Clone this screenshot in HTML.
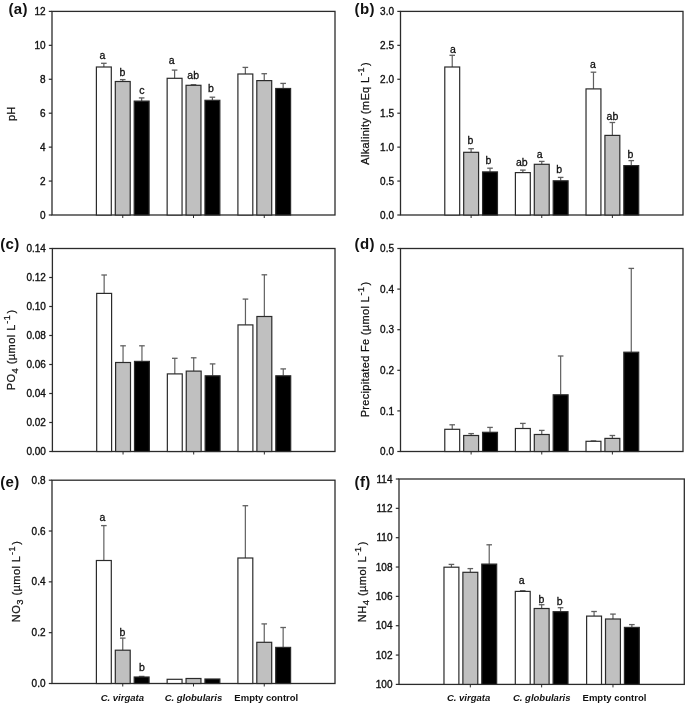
<!DOCTYPE html>
<html><head><meta charset="utf-8"><style>
html,body{margin:0;padding:0;background:#fff;}
body{width:685px;height:703px;overflow:hidden;}
svg{display:block;filter:blur(0.45px);}
text{font-family:"Liberation Sans", sans-serif;fill:#111;}
.tk{font-size:10px;stroke:#111;stroke-width:0.35px;}
.lt{font-size:10.5px;stroke:#111;stroke-width:0.3px;}
.pl{font-size:15px;font-weight:bold;letter-spacing:0.4px;}
.yl{font-size:11px;stroke:#111;stroke-width:0.25px;}
.xl{font-size:9.5px;font-weight:bold;}
.it{font-style:italic;}
</style></head><body>
<svg width="685" height="703" viewBox="0 0 685 703">
<rect x="52" y="11.4" width="283.00" height="203.60" fill="none" stroke="#2b2b2b" stroke-width="1.3"/>
<line x1="48.8" y1="215.00" x2="52" y2="215.00" stroke="#2b2b2b" stroke-width="1.2"/>
<text x="45.5" y="218.60" class="tk" text-anchor="end">0</text>
<line x1="48.8" y1="181.07" x2="52" y2="181.07" stroke="#2b2b2b" stroke-width="1.2"/>
<text x="45.5" y="184.67" class="tk" text-anchor="end">2</text>
<line x1="48.8" y1="147.13" x2="52" y2="147.13" stroke="#2b2b2b" stroke-width="1.2"/>
<text x="45.5" y="150.73" class="tk" text-anchor="end">4</text>
<line x1="48.8" y1="113.20" x2="52" y2="113.20" stroke="#2b2b2b" stroke-width="1.2"/>
<text x="45.5" y="116.80" class="tk" text-anchor="end">6</text>
<line x1="48.8" y1="79.27" x2="52" y2="79.27" stroke="#2b2b2b" stroke-width="1.2"/>
<text x="45.5" y="82.87" class="tk" text-anchor="end">8</text>
<line x1="48.8" y1="45.33" x2="52" y2="45.33" stroke="#2b2b2b" stroke-width="1.2"/>
<text x="45.5" y="48.93" class="tk" text-anchor="end">10</text>
<line x1="48.8" y1="11.40" x2="52" y2="11.40" stroke="#2b2b2b" stroke-width="1.2"/>
<text x="45.5" y="15.00" class="tk" text-anchor="end">12</text>
<line x1="122.75" y1="215" x2="122.75" y2="218" stroke="#2b2b2b" stroke-width="1"/>
<line x1="103.85" y1="67.00" x2="103.85" y2="63.30" stroke="#606060" stroke-width="1.2"/>
<line x1="101.05" y1="63.30" x2="106.65" y2="63.30" stroke="#606060" stroke-width="1.3"/>
<rect x="96.40" y="67.00" width="14.9" height="148.00" fill="#fff" stroke="#2b2b2b" stroke-width="1.2"/>
<line x1="122.75" y1="81.50" x2="122.75" y2="79.60" stroke="#606060" stroke-width="1.2"/>
<line x1="119.95" y1="79.60" x2="125.55" y2="79.60" stroke="#606060" stroke-width="1.3"/>
<rect x="115.30" y="81.50" width="14.9" height="133.50" fill="#c0c0c0" stroke="#2b2b2b" stroke-width="1.2"/>
<line x1="141.65" y1="101.10" x2="141.65" y2="97.90" stroke="#606060" stroke-width="1.2"/>
<line x1="138.85" y1="97.90" x2="144.45" y2="97.90" stroke="#606060" stroke-width="1.3"/>
<rect x="134.20" y="101.10" width="14.9" height="113.90" fill="#000" stroke="#2b2b2b" stroke-width="1.2"/>
<line x1="193.50" y1="215" x2="193.50" y2="218" stroke="#2b2b2b" stroke-width="1"/>
<line x1="174.60" y1="78.30" x2="174.60" y2="70.10" stroke="#606060" stroke-width="1.2"/>
<line x1="171.80" y1="70.10" x2="177.40" y2="70.10" stroke="#606060" stroke-width="1.3"/>
<rect x="167.15" y="78.30" width="14.9" height="136.70" fill="#fff" stroke="#2b2b2b" stroke-width="1.2"/>
<line x1="193.50" y1="85.30" x2="193.50" y2="84.70" stroke="#606060" stroke-width="1.2"/>
<line x1="190.70" y1="84.70" x2="196.30" y2="84.70" stroke="#606060" stroke-width="1.3"/>
<rect x="186.05" y="85.30" width="14.9" height="129.70" fill="#c0c0c0" stroke="#2b2b2b" stroke-width="1.2"/>
<line x1="212.40" y1="100.30" x2="212.40" y2="97.20" stroke="#606060" stroke-width="1.2"/>
<line x1="209.60" y1="97.20" x2="215.20" y2="97.20" stroke="#606060" stroke-width="1.3"/>
<rect x="204.95" y="100.30" width="14.9" height="114.70" fill="#000" stroke="#2b2b2b" stroke-width="1.2"/>
<line x1="264.25" y1="215" x2="264.25" y2="218" stroke="#2b2b2b" stroke-width="1"/>
<line x1="245.35" y1="74.00" x2="245.35" y2="67.40" stroke="#606060" stroke-width="1.2"/>
<line x1="242.55" y1="67.40" x2="248.15" y2="67.40" stroke="#606060" stroke-width="1.3"/>
<rect x="237.90" y="74.00" width="14.9" height="141.00" fill="#fff" stroke="#2b2b2b" stroke-width="1.2"/>
<line x1="264.25" y1="80.60" x2="264.25" y2="73.70" stroke="#606060" stroke-width="1.2"/>
<line x1="261.45" y1="73.70" x2="267.05" y2="73.70" stroke="#606060" stroke-width="1.3"/>
<rect x="256.80" y="80.60" width="14.9" height="134.40" fill="#c0c0c0" stroke="#2b2b2b" stroke-width="1.2"/>
<line x1="283.15" y1="88.50" x2="283.15" y2="83.40" stroke="#606060" stroke-width="1.2"/>
<line x1="280.35" y1="83.40" x2="285.95" y2="83.40" stroke="#606060" stroke-width="1.3"/>
<rect x="275.70" y="88.50" width="14.9" height="126.50" fill="#000" stroke="#2b2b2b" stroke-width="1.2"/>
<rect x="400.5" y="11.4" width="282.50" height="203.60" fill="none" stroke="#2b2b2b" stroke-width="1.3"/>
<line x1="397.3" y1="215.00" x2="400.5" y2="215.00" stroke="#2b2b2b" stroke-width="1.2"/>
<text x="394.0" y="218.60" class="tk" text-anchor="end">0.0</text>
<line x1="397.3" y1="181.07" x2="400.5" y2="181.07" stroke="#2b2b2b" stroke-width="1.2"/>
<text x="394.0" y="184.67" class="tk" text-anchor="end">0.5</text>
<line x1="397.3" y1="147.13" x2="400.5" y2="147.13" stroke="#2b2b2b" stroke-width="1.2"/>
<text x="394.0" y="150.73" class="tk" text-anchor="end">1.0</text>
<line x1="397.3" y1="113.20" x2="400.5" y2="113.20" stroke="#2b2b2b" stroke-width="1.2"/>
<text x="394.0" y="116.80" class="tk" text-anchor="end">1.5</text>
<line x1="397.3" y1="79.27" x2="400.5" y2="79.27" stroke="#2b2b2b" stroke-width="1.2"/>
<text x="394.0" y="82.87" class="tk" text-anchor="end">2.0</text>
<line x1="397.3" y1="45.33" x2="400.5" y2="45.33" stroke="#2b2b2b" stroke-width="1.2"/>
<text x="394.0" y="48.93" class="tk" text-anchor="end">2.5</text>
<line x1="397.3" y1="11.40" x2="400.5" y2="11.40" stroke="#2b2b2b" stroke-width="1.2"/>
<text x="394.0" y="15.00" class="tk" text-anchor="end">3.0</text>
<line x1="471.12" y1="215" x2="471.12" y2="218" stroke="#2b2b2b" stroke-width="1"/>
<line x1="452.23" y1="67.00" x2="452.23" y2="55.30" stroke="#606060" stroke-width="1.2"/>
<line x1="449.43" y1="55.30" x2="455.03" y2="55.30" stroke="#606060" stroke-width="1.3"/>
<rect x="444.78" y="67.00" width="14.9" height="148.00" fill="#fff" stroke="#2b2b2b" stroke-width="1.2"/>
<line x1="471.12" y1="152.30" x2="471.12" y2="148.70" stroke="#606060" stroke-width="1.2"/>
<line x1="468.32" y1="148.70" x2="473.93" y2="148.70" stroke="#606060" stroke-width="1.3"/>
<rect x="463.68" y="152.30" width="14.9" height="62.70" fill="#c0c0c0" stroke="#2b2b2b" stroke-width="1.2"/>
<line x1="490.02" y1="171.90" x2="490.02" y2="168.20" stroke="#606060" stroke-width="1.2"/>
<line x1="487.22" y1="168.20" x2="492.82" y2="168.20" stroke="#606060" stroke-width="1.3"/>
<rect x="482.57" y="171.90" width="14.9" height="43.10" fill="#000" stroke="#2b2b2b" stroke-width="1.2"/>
<line x1="541.75" y1="215" x2="541.75" y2="218" stroke="#2b2b2b" stroke-width="1"/>
<line x1="522.85" y1="172.60" x2="522.85" y2="170.10" stroke="#606060" stroke-width="1.2"/>
<line x1="520.05" y1="170.10" x2="525.65" y2="170.10" stroke="#606060" stroke-width="1.3"/>
<rect x="515.40" y="172.60" width="14.9" height="42.40" fill="#fff" stroke="#2b2b2b" stroke-width="1.2"/>
<line x1="541.75" y1="164.30" x2="541.75" y2="161.40" stroke="#606060" stroke-width="1.2"/>
<line x1="538.95" y1="161.40" x2="544.55" y2="161.40" stroke="#606060" stroke-width="1.3"/>
<rect x="534.30" y="164.30" width="14.9" height="50.70" fill="#c0c0c0" stroke="#2b2b2b" stroke-width="1.2"/>
<line x1="560.65" y1="180.80" x2="560.65" y2="177.40" stroke="#606060" stroke-width="1.2"/>
<line x1="557.85" y1="177.40" x2="563.45" y2="177.40" stroke="#606060" stroke-width="1.3"/>
<rect x="553.20" y="180.80" width="14.9" height="34.20" fill="#000" stroke="#2b2b2b" stroke-width="1.2"/>
<line x1="612.38" y1="215" x2="612.38" y2="218" stroke="#2b2b2b" stroke-width="1"/>
<line x1="593.48" y1="88.90" x2="593.48" y2="72.20" stroke="#606060" stroke-width="1.2"/>
<line x1="590.68" y1="72.20" x2="596.27" y2="72.20" stroke="#606060" stroke-width="1.3"/>
<rect x="586.02" y="88.90" width="14.9" height="126.10" fill="#fff" stroke="#2b2b2b" stroke-width="1.2"/>
<line x1="612.38" y1="135.40" x2="612.38" y2="122.50" stroke="#606060" stroke-width="1.2"/>
<line x1="609.58" y1="122.50" x2="615.17" y2="122.50" stroke="#606060" stroke-width="1.3"/>
<rect x="604.92" y="135.40" width="14.9" height="79.60" fill="#c0c0c0" stroke="#2b2b2b" stroke-width="1.2"/>
<line x1="631.27" y1="165.60" x2="631.27" y2="160.60" stroke="#606060" stroke-width="1.2"/>
<line x1="628.48" y1="160.60" x2="634.07" y2="160.60" stroke="#606060" stroke-width="1.3"/>
<rect x="623.82" y="165.60" width="14.9" height="49.40" fill="#000" stroke="#2b2b2b" stroke-width="1.2"/>
<rect x="52.4" y="248.5" width="282.60" height="203.00" fill="none" stroke="#2b2b2b" stroke-width="1.3"/>
<line x1="49.199999999999996" y1="451.50" x2="52.4" y2="451.50" stroke="#2b2b2b" stroke-width="1.2"/>
<text x="45.9" y="455.10" class="tk" text-anchor="end">0.00</text>
<line x1="49.199999999999996" y1="422.50" x2="52.4" y2="422.50" stroke="#2b2b2b" stroke-width="1.2"/>
<text x="45.9" y="426.10" class="tk" text-anchor="end">0.02</text>
<line x1="49.199999999999996" y1="393.50" x2="52.4" y2="393.50" stroke="#2b2b2b" stroke-width="1.2"/>
<text x="45.9" y="397.10" class="tk" text-anchor="end">0.04</text>
<line x1="49.199999999999996" y1="364.50" x2="52.4" y2="364.50" stroke="#2b2b2b" stroke-width="1.2"/>
<text x="45.9" y="368.10" class="tk" text-anchor="end">0.06</text>
<line x1="49.199999999999996" y1="335.50" x2="52.4" y2="335.50" stroke="#2b2b2b" stroke-width="1.2"/>
<text x="45.9" y="339.10" class="tk" text-anchor="end">0.08</text>
<line x1="49.199999999999996" y1="306.50" x2="52.4" y2="306.50" stroke="#2b2b2b" stroke-width="1.2"/>
<text x="45.9" y="310.10" class="tk" text-anchor="end">0.10</text>
<line x1="49.199999999999996" y1="277.50" x2="52.4" y2="277.50" stroke="#2b2b2b" stroke-width="1.2"/>
<text x="45.9" y="281.10" class="tk" text-anchor="end">0.12</text>
<line x1="49.199999999999996" y1="248.50" x2="52.4" y2="248.50" stroke="#2b2b2b" stroke-width="1.2"/>
<text x="45.9" y="252.10" class="tk" text-anchor="end">0.14</text>
<line x1="123.05" y1="451.5" x2="123.05" y2="454.5" stroke="#2b2b2b" stroke-width="1"/>
<line x1="104.15" y1="293.40" x2="104.15" y2="275.00" stroke="#606060" stroke-width="1.2"/>
<line x1="101.35" y1="275.00" x2="106.95" y2="275.00" stroke="#606060" stroke-width="1.3"/>
<rect x="96.70" y="293.40" width="14.9" height="158.10" fill="#fff" stroke="#2b2b2b" stroke-width="1.2"/>
<line x1="123.05" y1="362.50" x2="123.05" y2="345.80" stroke="#606060" stroke-width="1.2"/>
<line x1="120.25" y1="345.80" x2="125.85" y2="345.80" stroke="#606060" stroke-width="1.3"/>
<rect x="115.60" y="362.50" width="14.9" height="89.00" fill="#c0c0c0" stroke="#2b2b2b" stroke-width="1.2"/>
<line x1="141.95" y1="361.40" x2="141.95" y2="345.80" stroke="#606060" stroke-width="1.2"/>
<line x1="139.15" y1="345.80" x2="144.75" y2="345.80" stroke="#606060" stroke-width="1.3"/>
<rect x="134.50" y="361.40" width="14.9" height="90.10" fill="#000" stroke="#2b2b2b" stroke-width="1.2"/>
<line x1="193.70" y1="451.5" x2="193.70" y2="454.5" stroke="#2b2b2b" stroke-width="1"/>
<line x1="174.80" y1="373.90" x2="174.80" y2="358.30" stroke="#606060" stroke-width="1.2"/>
<line x1="172.00" y1="358.30" x2="177.60" y2="358.30" stroke="#606060" stroke-width="1.3"/>
<rect x="167.35" y="373.90" width="14.9" height="77.60" fill="#fff" stroke="#2b2b2b" stroke-width="1.2"/>
<line x1="193.70" y1="371.10" x2="193.70" y2="357.80" stroke="#606060" stroke-width="1.2"/>
<line x1="190.90" y1="357.80" x2="196.50" y2="357.80" stroke="#606060" stroke-width="1.3"/>
<rect x="186.25" y="371.10" width="14.9" height="80.40" fill="#c0c0c0" stroke="#2b2b2b" stroke-width="1.2"/>
<line x1="212.60" y1="375.80" x2="212.60" y2="363.90" stroke="#606060" stroke-width="1.2"/>
<line x1="209.80" y1="363.90" x2="215.40" y2="363.90" stroke="#606060" stroke-width="1.3"/>
<rect x="205.15" y="375.80" width="14.9" height="75.70" fill="#000" stroke="#2b2b2b" stroke-width="1.2"/>
<line x1="264.35" y1="451.5" x2="264.35" y2="454.5" stroke="#2b2b2b" stroke-width="1"/>
<line x1="245.45" y1="324.90" x2="245.45" y2="299.10" stroke="#606060" stroke-width="1.2"/>
<line x1="242.65" y1="299.10" x2="248.25" y2="299.10" stroke="#606060" stroke-width="1.3"/>
<rect x="238.00" y="324.90" width="14.9" height="126.60" fill="#fff" stroke="#2b2b2b" stroke-width="1.2"/>
<line x1="264.35" y1="316.50" x2="264.35" y2="274.80" stroke="#606060" stroke-width="1.2"/>
<line x1="261.55" y1="274.80" x2="267.15" y2="274.80" stroke="#606060" stroke-width="1.3"/>
<rect x="256.90" y="316.50" width="14.9" height="135.00" fill="#c0c0c0" stroke="#2b2b2b" stroke-width="1.2"/>
<line x1="283.25" y1="375.80" x2="283.25" y2="368.90" stroke="#606060" stroke-width="1.2"/>
<line x1="280.45" y1="368.90" x2="286.05" y2="368.90" stroke="#606060" stroke-width="1.3"/>
<rect x="275.80" y="375.80" width="14.9" height="75.70" fill="#000" stroke="#2b2b2b" stroke-width="1.2"/>
<rect x="400.5" y="248.5" width="282.50" height="203.00" fill="none" stroke="#2b2b2b" stroke-width="1.3"/>
<line x1="397.3" y1="451.50" x2="400.5" y2="451.50" stroke="#2b2b2b" stroke-width="1.2"/>
<text x="394.0" y="455.10" class="tk" text-anchor="end">0.0</text>
<line x1="397.3" y1="410.90" x2="400.5" y2="410.90" stroke="#2b2b2b" stroke-width="1.2"/>
<text x="394.0" y="414.50" class="tk" text-anchor="end">0.1</text>
<line x1="397.3" y1="370.30" x2="400.5" y2="370.30" stroke="#2b2b2b" stroke-width="1.2"/>
<text x="394.0" y="373.90" class="tk" text-anchor="end">0.2</text>
<line x1="397.3" y1="329.70" x2="400.5" y2="329.70" stroke="#2b2b2b" stroke-width="1.2"/>
<text x="394.0" y="333.30" class="tk" text-anchor="end">0.3</text>
<line x1="397.3" y1="289.10" x2="400.5" y2="289.10" stroke="#2b2b2b" stroke-width="1.2"/>
<text x="394.0" y="292.70" class="tk" text-anchor="end">0.4</text>
<line x1="397.3" y1="248.50" x2="400.5" y2="248.50" stroke="#2b2b2b" stroke-width="1.2"/>
<text x="394.0" y="252.10" class="tk" text-anchor="end">0.5</text>
<line x1="471.12" y1="451.5" x2="471.12" y2="454.5" stroke="#2b2b2b" stroke-width="1"/>
<line x1="452.23" y1="429.30" x2="452.23" y2="424.80" stroke="#606060" stroke-width="1.2"/>
<line x1="449.43" y1="424.80" x2="455.03" y2="424.80" stroke="#606060" stroke-width="1.3"/>
<rect x="444.78" y="429.30" width="14.9" height="22.20" fill="#fff" stroke="#2b2b2b" stroke-width="1.2"/>
<line x1="471.12" y1="435.50" x2="471.12" y2="433.60" stroke="#606060" stroke-width="1.2"/>
<line x1="468.32" y1="433.60" x2="473.93" y2="433.60" stroke="#606060" stroke-width="1.3"/>
<rect x="463.68" y="435.50" width="14.9" height="16.00" fill="#c0c0c0" stroke="#2b2b2b" stroke-width="1.2"/>
<line x1="490.02" y1="432.30" x2="490.02" y2="427.40" stroke="#606060" stroke-width="1.2"/>
<line x1="487.22" y1="427.40" x2="492.82" y2="427.40" stroke="#606060" stroke-width="1.3"/>
<rect x="482.57" y="432.30" width="14.9" height="19.20" fill="#000" stroke="#2b2b2b" stroke-width="1.2"/>
<line x1="541.75" y1="451.5" x2="541.75" y2="454.5" stroke="#2b2b2b" stroke-width="1"/>
<line x1="522.85" y1="428.50" x2="522.85" y2="423.40" stroke="#606060" stroke-width="1.2"/>
<line x1="520.05" y1="423.40" x2="525.65" y2="423.40" stroke="#606060" stroke-width="1.3"/>
<rect x="515.40" y="428.50" width="14.9" height="23.00" fill="#fff" stroke="#2b2b2b" stroke-width="1.2"/>
<line x1="541.75" y1="434.50" x2="541.75" y2="430.40" stroke="#606060" stroke-width="1.2"/>
<line x1="538.95" y1="430.40" x2="544.55" y2="430.40" stroke="#606060" stroke-width="1.3"/>
<rect x="534.30" y="434.50" width="14.9" height="17.00" fill="#c0c0c0" stroke="#2b2b2b" stroke-width="1.2"/>
<line x1="560.65" y1="394.80" x2="560.65" y2="356.00" stroke="#606060" stroke-width="1.2"/>
<line x1="557.85" y1="356.00" x2="563.45" y2="356.00" stroke="#606060" stroke-width="1.3"/>
<rect x="553.20" y="394.80" width="14.9" height="56.70" fill="#000" stroke="#2b2b2b" stroke-width="1.2"/>
<line x1="612.38" y1="451.5" x2="612.38" y2="454.5" stroke="#2b2b2b" stroke-width="1"/>
<line x1="593.48" y1="441.30" x2="593.48" y2="440.90" stroke="#606060" stroke-width="1.2"/>
<line x1="590.68" y1="440.90" x2="596.27" y2="440.90" stroke="#606060" stroke-width="1.3"/>
<rect x="586.02" y="441.30" width="14.9" height="10.20" fill="#fff" stroke="#2b2b2b" stroke-width="1.2"/>
<line x1="612.38" y1="438.40" x2="612.38" y2="435.50" stroke="#606060" stroke-width="1.2"/>
<line x1="609.58" y1="435.50" x2="615.17" y2="435.50" stroke="#606060" stroke-width="1.3"/>
<rect x="604.92" y="438.40" width="14.9" height="13.10" fill="#c0c0c0" stroke="#2b2b2b" stroke-width="1.2"/>
<line x1="631.27" y1="352.20" x2="631.27" y2="268.40" stroke="#606060" stroke-width="1.2"/>
<line x1="628.48" y1="268.40" x2="634.07" y2="268.40" stroke="#606060" stroke-width="1.3"/>
<rect x="623.82" y="352.20" width="14.9" height="99.30" fill="#000" stroke="#2b2b2b" stroke-width="1.2"/>
<rect x="52" y="480.2" width="283.00" height="203.30" fill="none" stroke="#2b2b2b" stroke-width="1.3"/>
<line x1="48.8" y1="683.50" x2="52" y2="683.50" stroke="#2b2b2b" stroke-width="1.2"/>
<text x="45.5" y="687.10" class="tk" text-anchor="end">0.0</text>
<line x1="48.8" y1="632.67" x2="52" y2="632.67" stroke="#2b2b2b" stroke-width="1.2"/>
<text x="45.5" y="636.27" class="tk" text-anchor="end">0.2</text>
<line x1="48.8" y1="581.85" x2="52" y2="581.85" stroke="#2b2b2b" stroke-width="1.2"/>
<text x="45.5" y="585.45" class="tk" text-anchor="end">0.4</text>
<line x1="48.8" y1="531.02" x2="52" y2="531.02" stroke="#2b2b2b" stroke-width="1.2"/>
<text x="45.5" y="534.62" class="tk" text-anchor="end">0.6</text>
<line x1="48.8" y1="480.20" x2="52" y2="480.20" stroke="#2b2b2b" stroke-width="1.2"/>
<text x="45.5" y="483.80" class="tk" text-anchor="end">0.8</text>
<line x1="122.75" y1="683.5" x2="122.75" y2="686.5" stroke="#2b2b2b" stroke-width="1"/>
<line x1="103.85" y1="560.50" x2="103.85" y2="525.60" stroke="#606060" stroke-width="1.2"/>
<line x1="101.05" y1="525.60" x2="106.65" y2="525.60" stroke="#606060" stroke-width="1.3"/>
<rect x="96.40" y="560.50" width="14.9" height="123.00" fill="#fff" stroke="#2b2b2b" stroke-width="1.2"/>
<line x1="122.75" y1="650.20" x2="122.75" y2="638.10" stroke="#606060" stroke-width="1.2"/>
<line x1="119.95" y1="638.10" x2="125.55" y2="638.10" stroke="#606060" stroke-width="1.3"/>
<rect x="115.30" y="650.20" width="14.9" height="33.30" fill="#c0c0c0" stroke="#2b2b2b" stroke-width="1.2"/>
<line x1="141.65" y1="677.00" x2="141.65" y2="676.40" stroke="#606060" stroke-width="1.2"/>
<line x1="138.85" y1="676.40" x2="144.45" y2="676.40" stroke="#606060" stroke-width="1.3"/>
<rect x="134.20" y="677.00" width="14.9" height="6.50" fill="#000" stroke="#2b2b2b" stroke-width="1.2"/>
<line x1="193.50" y1="683.5" x2="193.50" y2="686.5" stroke="#2b2b2b" stroke-width="1"/>
<rect x="167.15" y="679.30" width="14.9" height="4.20" fill="#fff" stroke="#2b2b2b" stroke-width="1.2"/>
<rect x="186.05" y="678.50" width="14.9" height="5.00" fill="#c0c0c0" stroke="#2b2b2b" stroke-width="1.2"/>
<rect x="204.95" y="679.00" width="14.9" height="4.50" fill="#000" stroke="#2b2b2b" stroke-width="1.2"/>
<line x1="264.25" y1="683.5" x2="264.25" y2="686.5" stroke="#2b2b2b" stroke-width="1"/>
<line x1="245.35" y1="558.00" x2="245.35" y2="505.70" stroke="#606060" stroke-width="1.2"/>
<line x1="242.55" y1="505.70" x2="248.15" y2="505.70" stroke="#606060" stroke-width="1.3"/>
<rect x="237.90" y="558.00" width="14.9" height="125.50" fill="#fff" stroke="#2b2b2b" stroke-width="1.2"/>
<line x1="264.25" y1="642.30" x2="264.25" y2="623.90" stroke="#606060" stroke-width="1.2"/>
<line x1="261.45" y1="623.90" x2="267.05" y2="623.90" stroke="#606060" stroke-width="1.3"/>
<rect x="256.80" y="642.30" width="14.9" height="41.20" fill="#c0c0c0" stroke="#2b2b2b" stroke-width="1.2"/>
<line x1="283.15" y1="647.40" x2="283.15" y2="627.50" stroke="#606060" stroke-width="1.2"/>
<line x1="280.35" y1="627.50" x2="285.95" y2="627.50" stroke="#606060" stroke-width="1.3"/>
<rect x="275.70" y="647.40" width="14.9" height="36.10" fill="#000" stroke="#2b2b2b" stroke-width="1.2"/>
<rect x="399" y="479" width="285.30" height="205.40" fill="none" stroke="#2b2b2b" stroke-width="1.3"/>
<line x1="395.8" y1="684.40" x2="399" y2="684.40" stroke="#2b2b2b" stroke-width="1.2"/>
<text x="392.5" y="688.00" class="tk" text-anchor="end">100</text>
<line x1="395.8" y1="655.06" x2="399" y2="655.06" stroke="#2b2b2b" stroke-width="1.2"/>
<text x="392.5" y="658.66" class="tk" text-anchor="end">102</text>
<line x1="395.8" y1="625.71" x2="399" y2="625.71" stroke="#2b2b2b" stroke-width="1.2"/>
<text x="392.5" y="629.31" class="tk" text-anchor="end">104</text>
<line x1="395.8" y1="596.37" x2="399" y2="596.37" stroke="#2b2b2b" stroke-width="1.2"/>
<text x="392.5" y="599.97" class="tk" text-anchor="end">106</text>
<line x1="395.8" y1="567.03" x2="399" y2="567.03" stroke="#2b2b2b" stroke-width="1.2"/>
<text x="392.5" y="570.63" class="tk" text-anchor="end">108</text>
<line x1="395.8" y1="537.69" x2="399" y2="537.69" stroke="#2b2b2b" stroke-width="1.2"/>
<text x="392.5" y="541.29" class="tk" text-anchor="end">110</text>
<line x1="395.8" y1="508.34" x2="399" y2="508.34" stroke="#2b2b2b" stroke-width="1.2"/>
<text x="392.5" y="511.94" class="tk" text-anchor="end">112</text>
<line x1="395.8" y1="479.00" x2="399" y2="479.00" stroke="#2b2b2b" stroke-width="1.2"/>
<text x="392.5" y="482.60" class="tk" text-anchor="end">114</text>
<line x1="470.32" y1="684.4" x2="470.32" y2="687.4" stroke="#2b2b2b" stroke-width="1"/>
<line x1="451.43" y1="567.20" x2="451.43" y2="564.40" stroke="#606060" stroke-width="1.2"/>
<line x1="448.62" y1="564.40" x2="454.23" y2="564.40" stroke="#606060" stroke-width="1.3"/>
<rect x="443.98" y="567.20" width="14.9" height="117.20" fill="#fff" stroke="#2b2b2b" stroke-width="1.2"/>
<line x1="470.32" y1="572.30" x2="470.32" y2="568.60" stroke="#606060" stroke-width="1.2"/>
<line x1="467.52" y1="568.60" x2="473.12" y2="568.60" stroke="#606060" stroke-width="1.3"/>
<rect x="462.88" y="572.30" width="14.9" height="112.10" fill="#c0c0c0" stroke="#2b2b2b" stroke-width="1.2"/>
<line x1="489.22" y1="564.10" x2="489.22" y2="544.80" stroke="#606060" stroke-width="1.2"/>
<line x1="486.42" y1="544.80" x2="492.02" y2="544.80" stroke="#606060" stroke-width="1.3"/>
<rect x="481.77" y="564.10" width="14.9" height="120.30" fill="#000" stroke="#2b2b2b" stroke-width="1.2"/>
<line x1="541.65" y1="684.4" x2="541.65" y2="687.4" stroke="#2b2b2b" stroke-width="1"/>
<line x1="522.75" y1="591.40" x2="522.75" y2="590.70" stroke="#606060" stroke-width="1.2"/>
<line x1="519.95" y1="590.70" x2="525.55" y2="590.70" stroke="#606060" stroke-width="1.3"/>
<rect x="515.30" y="591.40" width="14.9" height="93.00" fill="#fff" stroke="#2b2b2b" stroke-width="1.2"/>
<line x1="541.65" y1="608.50" x2="541.65" y2="604.70" stroke="#606060" stroke-width="1.2"/>
<line x1="538.85" y1="604.70" x2="544.45" y2="604.70" stroke="#606060" stroke-width="1.3"/>
<rect x="534.20" y="608.50" width="14.9" height="75.90" fill="#c0c0c0" stroke="#2b2b2b" stroke-width="1.2"/>
<line x1="560.55" y1="611.70" x2="560.55" y2="607.70" stroke="#606060" stroke-width="1.2"/>
<line x1="557.75" y1="607.70" x2="563.35" y2="607.70" stroke="#606060" stroke-width="1.3"/>
<rect x="553.10" y="611.70" width="14.9" height="72.70" fill="#000" stroke="#2b2b2b" stroke-width="1.2"/>
<line x1="612.97" y1="684.4" x2="612.97" y2="687.4" stroke="#2b2b2b" stroke-width="1"/>
<line x1="594.07" y1="616.10" x2="594.07" y2="611.50" stroke="#606060" stroke-width="1.2"/>
<line x1="591.27" y1="611.50" x2="596.87" y2="611.50" stroke="#606060" stroke-width="1.3"/>
<rect x="586.62" y="616.10" width="14.9" height="68.30" fill="#fff" stroke="#2b2b2b" stroke-width="1.2"/>
<line x1="612.97" y1="619.00" x2="612.97" y2="614.10" stroke="#606060" stroke-width="1.2"/>
<line x1="610.17" y1="614.10" x2="615.77" y2="614.10" stroke="#606060" stroke-width="1.3"/>
<rect x="605.52" y="619.00" width="14.9" height="65.40" fill="#c0c0c0" stroke="#2b2b2b" stroke-width="1.2"/>
<line x1="631.87" y1="627.40" x2="631.87" y2="624.60" stroke="#606060" stroke-width="1.2"/>
<line x1="629.07" y1="624.60" x2="634.67" y2="624.60" stroke="#606060" stroke-width="1.3"/>
<rect x="624.42" y="627.40" width="14.9" height="57.00" fill="#000" stroke="#2b2b2b" stroke-width="1.2"/>
<text x="102.45" y="59.00" class="lt" text-anchor="middle">a</text>
<text x="122.45" y="76.40" class="lt" text-anchor="middle">b</text>
<text x="141.85" y="93.70" class="lt" text-anchor="middle">c</text>
<text x="171.75" y="64.10" class="lt" text-anchor="middle">a</text>
<text x="193.2" y="79.40" class="lt" text-anchor="middle">ab</text>
<text x="211" y="91.70" class="lt" text-anchor="middle">b</text>
<text x="453" y="52.90" class="lt" text-anchor="middle">a</text>
<text x="470.5" y="144.00" class="lt" text-anchor="middle">b</text>
<text x="488.5" y="163.70" class="lt" text-anchor="middle">b</text>
<text x="521.75" y="165.60" class="lt" text-anchor="middle">ab</text>
<text x="539.7" y="157.80" class="lt" text-anchor="middle">a</text>
<text x="559.25" y="173.20" class="lt" text-anchor="middle">b</text>
<text x="592.8" y="68.00" class="lt" text-anchor="middle">a</text>
<text x="612.45" y="120.40" class="lt" text-anchor="middle">ab</text>
<text x="630.5" y="157.60" class="lt" text-anchor="middle">b</text>
<text x="102.45" y="521.10" class="lt" text-anchor="middle">a</text>
<text x="122.3" y="635.70" class="lt" text-anchor="middle">b</text>
<text x="142" y="670.80" class="lt" text-anchor="middle">b</text>
<text x="521.6" y="584.20" class="lt" text-anchor="middle">a</text>
<text x="541.5" y="603.00" class="lt" text-anchor="middle">b</text>
<text x="559.6" y="604.60" class="lt" text-anchor="middle">b</text>
<text x="8.40" y="14.4" class="pl">(a)</text>
<text x="354.50" y="14.3" class="pl">(b)</text>
<text x="0.20" y="249.2" class="pl">(c)</text>
<text x="354.50" y="249.3" class="pl">(d)</text>
<text x="0.20" y="486.5" class="pl">(e)</text>
<text x="354.50" y="486.5" class="pl">(f)</text>
<text transform="translate(14.8,113.95) rotate(-90)" class="yl" text-anchor="middle">pH</text>
<text transform="translate(368.9,113.5) rotate(-90)" class="yl" text-anchor="middle" textLength="102.6" lengthAdjust="spacing">Alkalinity (mEq L<tspan dx="0.6" dy="-5" font-size="9">-1</tspan><tspan dx="1.2" dy="5">)</tspan></text>
<text transform="translate(14.5,350.1) rotate(-90)" class="yl" text-anchor="middle" textLength="80.5" lengthAdjust="spacing">PO<tspan dy="3" font-size="9.5">4</tspan><tspan dy="-3"> (µmol L</tspan><tspan dx="0.6" dy="-5" font-size="9">-1</tspan><tspan dx="1.2" dy="5">)</tspan></text>
<text transform="translate(368.6,349.6) rotate(-90)" class="yl" text-anchor="middle" textLength="135.5" lengthAdjust="spacing">Precipitated Fe (µmol L<tspan dx="0.6" dy="-5" font-size="9">-1</tspan><tspan dx="1.2" dy="5">)</tspan></text>
<text transform="translate(20.0,581.7) rotate(-90)" class="yl" text-anchor="middle" textLength="81.0" lengthAdjust="spacing">NO<tspan dy="3" font-size="9.5">3</tspan><tspan dy="-3"> (µmol L</tspan><tspan dx="0.6" dy="-5" font-size="9">-1</tspan><tspan dx="1.2" dy="5">)</tspan></text>
<text transform="translate(365.9,581.9) rotate(-90)" class="yl" text-anchor="middle" textLength="80.5" lengthAdjust="spacing">NH<tspan dy="3" font-size="9.5">4</tspan><tspan dy="-3"> (µmol L</tspan><tspan dx="0.6" dy="-5" font-size="9">-1</tspan><tspan dx="1.2" dy="5">)</tspan></text>
<text x="122.35" y="701.0" class="xl it" text-anchor="middle">C. virgata</text>
<text x="193.45" y="701.0" class="xl it" text-anchor="middle">C. globularis</text>
<text x="266.3" y="701.0" class="xl" text-anchor="middle">Empty control</text>
<text x="468.6" y="701.0" class="xl it" text-anchor="middle">C. virgata</text>
<text x="541.75" y="701.0" class="xl it" text-anchor="middle">C. globularis</text>
<text x="614.5" y="701.0" class="xl" text-anchor="middle">Empty control</text>
</svg>
</body></html>
